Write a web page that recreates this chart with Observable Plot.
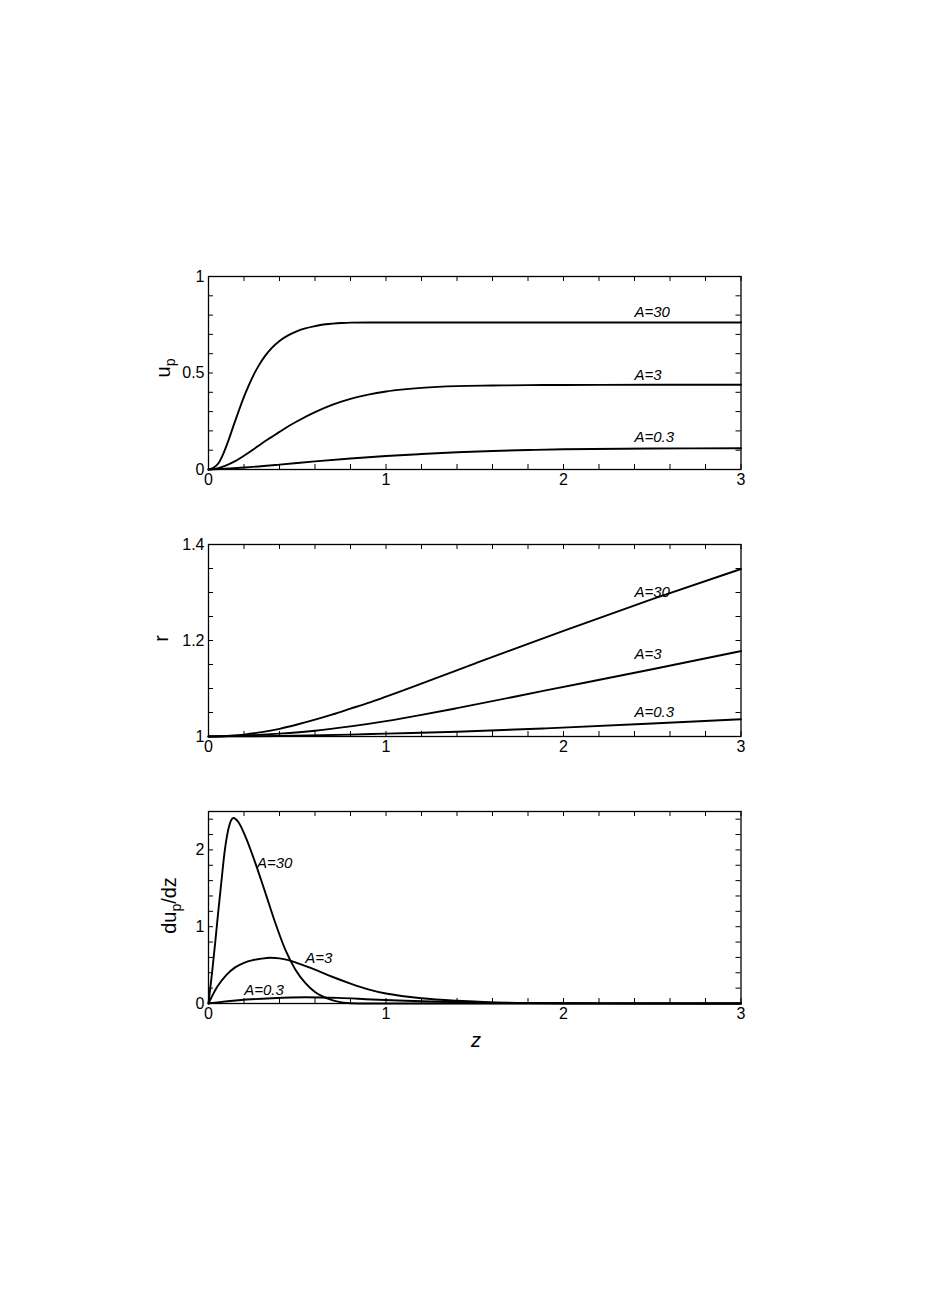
<!DOCTYPE html>
<html><head><meta charset="utf-8">
<script src="https://cdn.jsdelivr.net/npm/d3@7"></script>
<script src="https://cdn.jsdelivr.net/npm/@observablehq/plot@0.6"></script>
<style>
html,body{margin:0;padding:0;background:#fff;overflow:hidden;}
#wrap{position:relative;width:927px;height:1311px;background:#fff;}
#wrap svg{position:absolute;left:0;}
</style></head><body><div id="wrap"></div>
<script>
// ---------- data ----------
const seriesNames = ["A=30", "A=3", "A=0.3"];
const zTickLabels = [0, 1, 2, 3];

// Panel 1: u_p
const upZ30 = [0, 0.03, 0.056, 0.085, 0.113, 0.14, 0.169, 0.197, 0.225, 0.253, 0.282, 0.32, 0.357, 0.40, 0.451, 0.50, 0.545, 0.60, 0.638, 0.70, 0.75, 0.80, 0.90, 1.0, 1.5, 2.0, 2.5, 3.0];
const upV30 = [0, 0.010, 0.032, 0.085, 0.152, 0.225, 0.300, 0.370, 0.432, 0.488, 0.537, 0.590, 0.630, 0.666, 0.696, 0.717, 0.731, 0.743, 0.750, 0.756, 0.759, 0.761, 0.762, 0.762, 0.762, 0.762, 0.762, 0.762];
const upZ3 = [0, 0.05, 0.1, 0.15, 0.2, 0.25, 0.3, 0.35, 0.4, 0.45, 0.5, 0.6, 0.7, 0.8, 0.9, 1.0, 1.1, 1.2, 1.4, 1.6, 1.8, 2.0, 2.5, 3.0];
const upV3 = [0, 0.006, 0.021, 0.043, 0.071, 0.102, 0.135, 0.165, 0.195, 0.224, 0.250, 0.297, 0.336, 0.366, 0.388, 0.404, 0.415, 0.423, 0.432, 0.435, 0.437, 0.438, 0.439, 0.439];
const upZ03 = [0, 0.2, 0.4, 0.6, 0.8, 1.0, 1.2, 1.4, 1.6, 1.8, 2.0, 2.5, 3.0];
const upV03 = [0, 0.010, 0.025, 0.042, 0.057, 0.070, 0.080, 0.089, 0.096, 0.101, 0.105, 0.109, 0.110];

// Panel 2: r
const rZ30 = [0, 0.1, 0.2, 0.3, 0.4, 0.5, 0.6, 0.7, 0.8, 0.9, 1.0, 1.5, 2.0, 2.5, 3.0];
const rV30 = [1, 1.001, 1.004, 1.009, 1.016, 1.025, 1.035, 1.046, 1.058, 1.070, 1.083, 1.152, 1.220, 1.286, 1.349];
const rZ3 = [0, 0.2, 0.4, 0.6, 0.8, 1.0, 1.2, 1.4, 1.9, 2.5, 3.0];
const rV3 = [1, 1.002, 1.006, 1.012, 1.021, 1.032, 1.045, 1.059, 1.096, 1.140, 1.178];
const rZ03 = [0, 0.4, 0.8, 1.0, 1.4, 1.9, 2.5, 3.0];
const rV03 = [1, 1.001, 1.004, 1.006, 1.010, 1.017, 1.027, 1.036];

// Panel 3: du_p/dz
const dZ30 = [0, 0.02, 0.038, 0.056, 0.075, 0.09, 0.104, 0.12, 0.141, 0.169, 0.207, 0.263, 0.32, 0.376, 0.432, 0.489, 0.545, 0.60, 0.64, 0.70, 0.75, 0.80, 0.9, 1.0, 2.0, 3.0];
const dV30 = [0, 0.40, 0.80, 1.22, 1.64, 1.96, 2.18, 2.34, 2.415, 2.36, 2.18, 1.835, 1.444, 1.052, 0.705, 0.444, 0.269, 0.150, 0.095, 0.040, 0.015, 0.004, 0, 0, 0, 0];
const dZ3 = [0, 0.05, 0.1, 0.15, 0.2, 0.25, 0.3, 0.35, 0.4, 0.45, 0.5, 0.6, 0.7, 0.8, 0.9, 1.0, 1.1, 1.2, 1.4, 1.6, 1.8, 2.0, 2.5, 3.0];
const dV3 = [0, 0.22, 0.37, 0.47, 0.53, 0.565, 0.585, 0.595, 0.588, 0.565, 0.525, 0.44, 0.345, 0.26, 0.185, 0.13, 0.095, 0.068, 0.035, 0.015, 0.006, 0.003, 0, 0];
const dZ03 = [0, 0.05, 0.169, 0.357, 0.545, 0.733, 0.921, 1.109, 1.3, 1.5, 1.8, 2.2, 2.6, 3.0];
const dV03 = [0, 0.015, 0.043, 0.069, 0.082, 0.073, 0.052, 0.035, 0.022, 0.013, 0.006, 0.002, 0.001, 0];

// curve annotations (label anchor: left edge, baseline)
const upLabels = [{z: 2.40, v: 0.789, t: "A=30"}, {z: 2.40, v: 0.466, t: "A=3"}, {z: 2.40, v: 0.141, t: "A=0.3"}];
const rLabels = [{z: 2.40, v: 1.291, t: "A=30"}, {z: 2.40, v: 1.161, t: "A=3"}, {z: 2.40, v: 1.0396, t: "A=0.3"}];
const dLabels = [{z: 0.273, v: 1.77, t: "A=30"}, {z: 0.545, v: 0.522, t: "A=3"}, {z: 0.201, v: 0.117, t: "A=0.3"}];

// ---------- drawing ----------
const FONT = "'Liberation Sans', Arial, Helvetica, sans-serif";
const W = 927, ML = 208, MR = 186.5, IW = W - ML - MR;
const xMinor = d3.range(0, 3.0001, 0.2);
const wrap = document.getElementById("wrap");

function rowsOf(list) {
  return list.flatMap(([name, zs, vs]) => zs.map((z, i) => ({z, v: vs[i], A: name})));
}

function makePanel(cfg) {
  const MT = 20, MB = cfg.mb;
  const H = MT + cfg.ih + MB;
  const rows = rowsOf(cfg.series);
  const svg = Plot.plot({
    width: W, height: H,
    marginLeft: ML, marginRight: MR, marginTop: MT, marginBottom: MB,
    style: {fontFamily: FONT, background: "white", overflow: "visible", color: "black"},
    x: {domain: [0, 3]},
    y: {domain: cfg.yDomain},
    marks: [
      Plot.line(rows, {x: "z", y: "v", z: "A", stroke: "black", strokeWidth: 1.9, curve: "monotone-x"}),
      Plot.tickX(xMinor, {x: d => d, insetTop: cfg.ih - 5, stroke: "black", strokeWidth: 1}),
      Plot.tickX(xMinor, {x: d => d, insetBottom: cfg.ih - 5, stroke: "black", strokeWidth: 1}),
      Plot.tickY(cfg.yMinor, {y: d => d, insetRight: IW - 5, stroke: "black", strokeWidth: 1}),
      Plot.tickY(cfg.yMinor, {y: d => d, insetLeft: IW - 5, stroke: "black", strokeWidth: 1}),
      Plot.frame({stroke: "black", strokeWidth: 1.3}),
      Plot.axisX(zTickLabels, {tickSize: 0, tickPadding: 4, fontSize: 16, label: null, tickFormat: d => String(d)}),
      Plot.axisY(cfg.yTicks, {tickSize: 0, tickPadding: 4, fontSize: 16, label: null, tickFormat: cfg.fmt}),
      Plot.text(cfg.labels, {x: "z", y: "v", text: "t", textAnchor: "start", lineAnchor: "bottom", fontStyle: "italic", fontSize: 15, fill: "black"})
    ]
  });
  const svgTop = cfg.top - MT;
  svg.style.top = svgTop + "px";
  wrap.appendChild(svg);
  // y-axis title
  const t = d3.select(svg).append("text")
    .attr("transform", `translate(${cfg.titleX},${cfg.titleY - svgTop}) rotate(-90)`)
    .attr("text-anchor", "middle").attr("fill", "black")
    .style("font-family", FONT).style("font-size", "20px");
  cfg.title.forEach(([s, sub]) => {
    if (sub) t.append("tspan").attr("dy", 5).style("font-size", "14px").text(s);
    else {
      const sp = t.append("tspan").text(s);
      if (t.selectAll("tspan").size() > 1) sp.attr("dy", -5);
    }
  });
  if (cfg.xTitle) {
    d3.select(svg).append("text")
      .attr("x", 476).attr("y", 1046 - svgTop)
      .attr("text-anchor", "middle").attr("fill", "black")
      .style("font-family", FONT).style("font-size", "20px").style("font-style", "italic")
      .text(cfg.xTitle);
  }
}

makePanel({
  top: 276, ih: 193, mb: 30,
  yDomain: [0, 1], yTicks: [0, 0.5, 1], fmt: d => String(d),
  yMinor: d3.range(0, 1.0001, 0.1),
  series: [[seriesNames[0], upZ30, upV30], [seriesNames[1], upZ3, upV3], [seriesNames[2], upZ03, upV03]],
  labels: upLabels,
  title: [["u", false], ["p", true]], titleX: 170, titleY: 368
});

makePanel({
  top: 543.5, ih: 192, mb: 30,
  yDomain: [1, 1.4], yTicks: [1, 1.2, 1.4], fmt: d => d === 1 ? "1" : d.toFixed(1),
  yMinor: d3.range(1, 1.4001, 0.05),
  series: [[seriesNames[0], rZ30, rV30], [seriesNames[1], rZ3, rV3], [seriesNames[2], rZ03, rV03]],
  labels: rLabels,
  title: [["r", false]], titleX: 168, titleY: 638
});

makePanel({
  top: 810.5, ih: 192, mb: 60,
  yDomain: [0, 2.5], yTicks: [0, 1, 2], fmt: d => String(d),
  yMinor: d3.range(0, 2.5001, 0.2),
  series: [[seriesNames[0], dZ30, dV30], [seriesNames[1], dZ3, dV3], [seriesNames[2], dZ03, dV03]],
  labels: dLabels,
  title: [["du", false], ["p", true], ["/dz", false]], titleX: 176, titleY: 905,
  xTitle: "z"
});
</script>
</body></html>
